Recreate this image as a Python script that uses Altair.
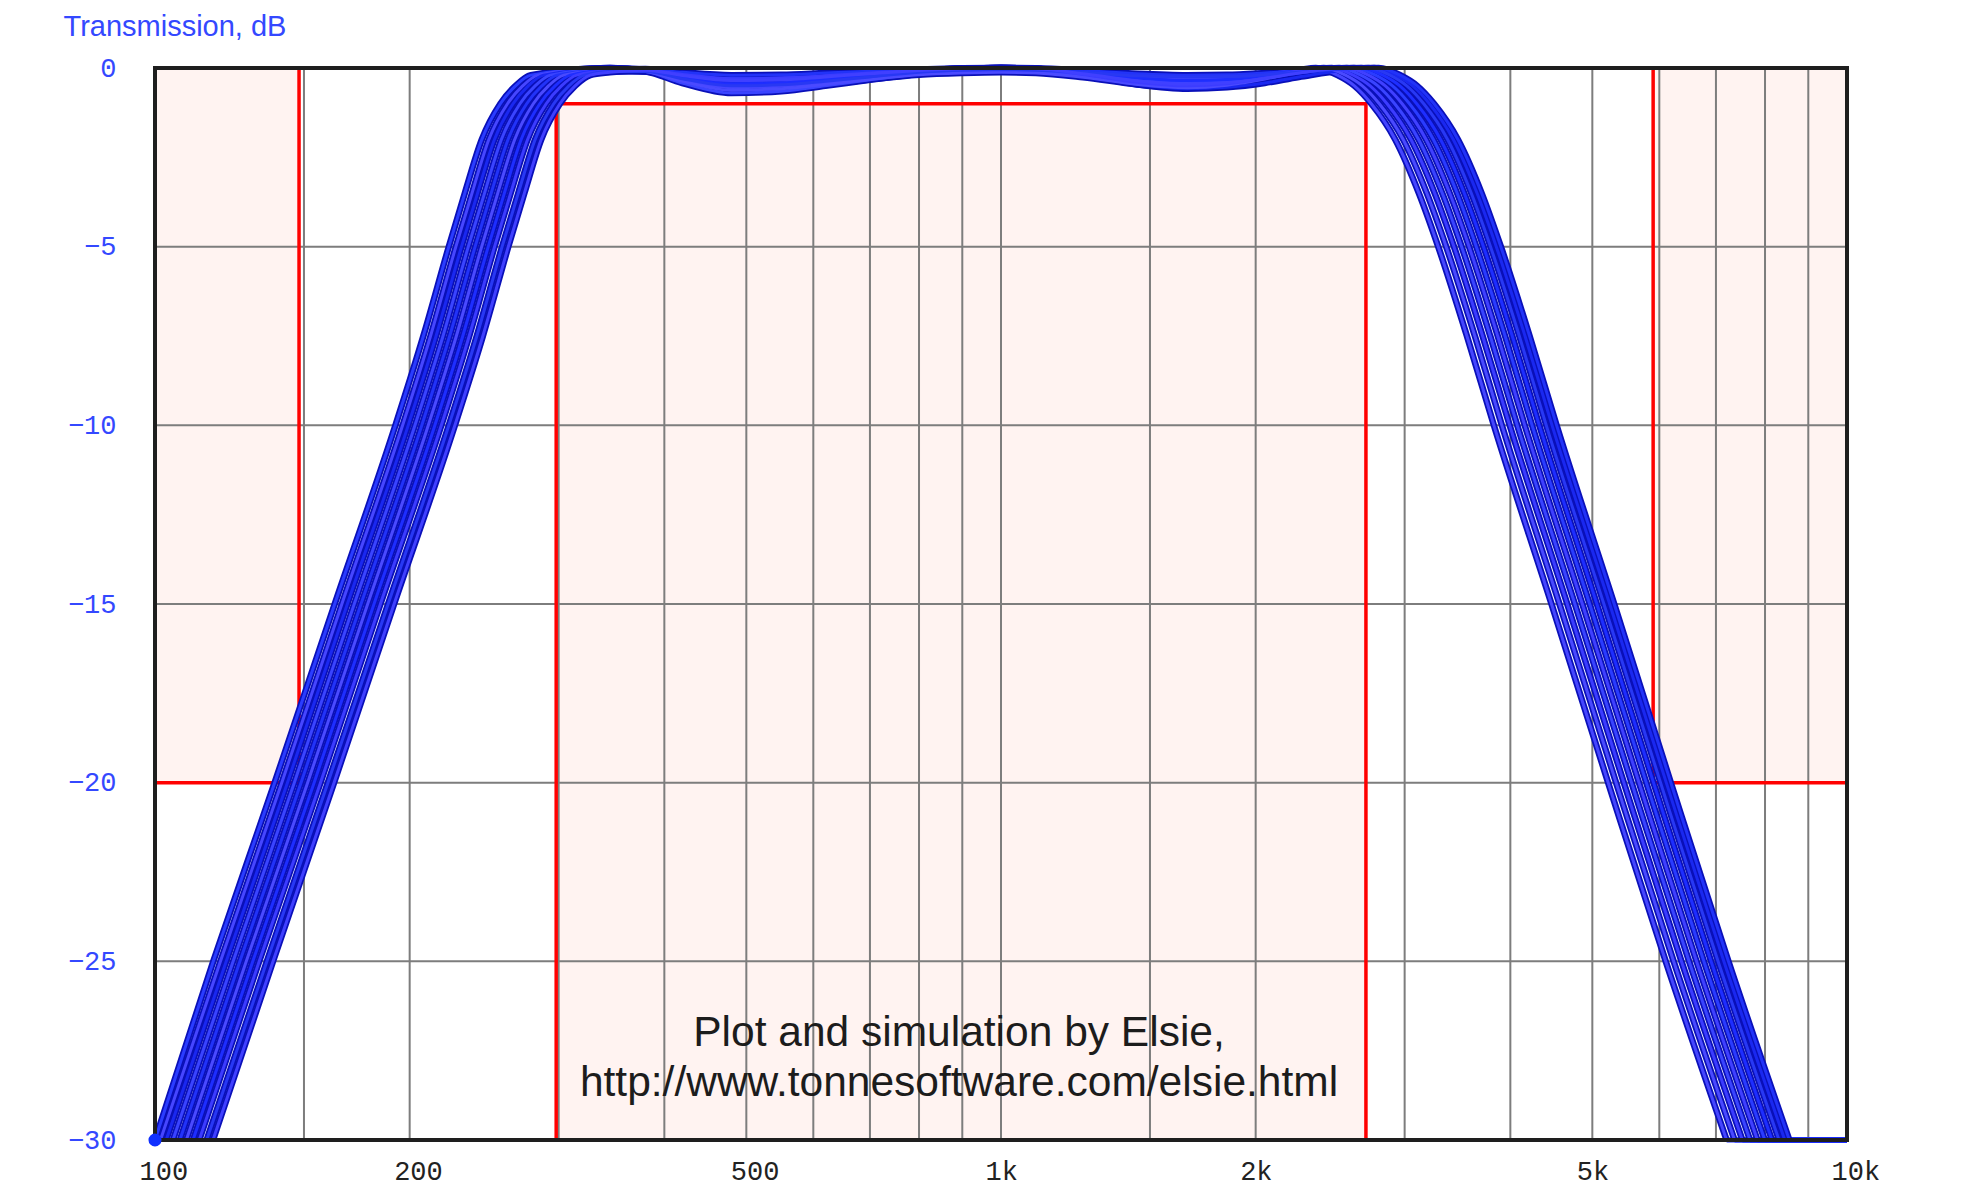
import altair as alt
import pandas as pd

# ---------------- data ----------------
# lower skirt: frequency (Hz) at which each simulated curve crosses these levels (dB)
LOW_SKIRT_DB = [-30, -25, -20, -15, -10, -7.5, -5, -3.5, -2, -1, -0.5, -0.2]
LOW_SKIRT_HZ = [
    [100.0, 117.2, 138.5, 163.1, 192.4, 207.6, 222.5, 232.4, 243.4, 256, 266.8, 278.1],
    [101.5, 119.5, 141.2, 166.3, 196.2, 211.7, 226.8, 237.0, 248.1, 261, 272.0, 283.6],
    [103.1, 121.4, 143.4, 168.8, 199.2, 214.9, 230.3, 240.6, 251.9, 265, 276.2, 287.9],
    [105.0, 123.7, 146.1, 172.0, 202.9, 219.0, 234.6, 245.2, 256.7, 270, 281.4, 293.3],
    [107.0, 126.0, 148.8, 175.2, 206.7, 223.0, 239.0, 249.7, 261.4, 275, 286.6, 298.8],
    [108.9, 128.2, 151.5, 178.4, 210.4, 227.1, 243.3, 254.2, 266.2, 280, 291.8, 304.2],
    [110.9, 130.5, 154.2, 181.5, 214.2, 231.1, 247.7, 258.8, 270.9, 285, 297.1, 309.6],
    [112.8, 132.8, 156.9, 184.7, 218.0, 235.2, 252.0, 263.3, 275.7, 290, 302.3, 315.1],
    [115.1, 135.6, 160.1, 188.6, 222.5, 240.1, 257.2, 268.8, 281.4, 296, 308.5, 321.6],
    [117.1, 137.9, 162.8, 191.7, 226.2, 244.1, 261.6, 273.3, 286.1, 301, 313.7, 327.0],
]

# passband ripple: level (dB) of each curve at these frequencies (Hz)
PASS_HZ = [345, 380, 420, 480, 550, 620, 700, 800, 900, 1000, 1100, 1250, 1450, 1660, 1850, 2050, 2250]
PASS_DB = [
    [0, -0.05, -0.18, -0.3, -0.28, -0.22, -0.14, -0.06, -0.02, 0, -0.02, -0.16, -0.36, -0.45, -0.41, -0.29, -0.14],
    [0, -0.08, -0.33, -0.55, -0.51, -0.4, -0.25, -0.11, -0.03, 0, -0.02, -0.1, -0.24, -0.3, -0.26, -0.17, -0.05],
    [-0.02, -0.06, -0.24, -0.4, -0.37, -0.29, -0.18, -0.08, -0.02, 0, -0.03, -0.2, -0.46, -0.58, -0.54, -0.42, -0.25],
    [-0.03, -0.1, -0.42, -0.7, -0.65, -0.5, -0.33, -0.17, -0.1, -0.08, -0.1, -0.2, -0.35, -0.4, -0.36, -0.26, -0.12],
    [-0.05, -0.03, -0.12, -0.2, -0.19, -0.14, -0.09, -0.04, -0.01, 0, -0.01, -0.07, -0.16, -0.2, -0.19, -0.14, -0.08],
    [-0.06, -0.1, -0.37, -0.62, -0.58, -0.46, -0.32, -0.19, -0.14, -0.12, -0.14, -0.26, -0.46, -0.55, -0.48, -0.31, -0.1],
    [-0.06, -0.08, -0.27, -0.45, -0.42, -0.32, -0.2, -0.09, -0.02, 0, -0.02, -0.12, -0.28, -0.35, -0.32, -0.23, -0.11],
    [-0.08, -0.06, -0.18, -0.3, -0.28, -0.22, -0.14, -0.06, -0.02, 0, -0.03, -0.18, -0.4, -0.5, -0.44, -0.28, -0.08],
    [-0.1, -0.1, -0.3, -0.5, -0.47, -0.37, -0.25, -0.12, -0.06, -0.05, -0.06, -0.12, -0.22, -0.25, -0.24, -0.19, -0.12],
    [-0.12, -0.06, -0.21, -0.35, -0.33, -0.25, -0.16, -0.07, -0.02, 0, -0.02, -0.16, -0.36, -0.45, -0.41, -0.29, -0.14],
]

# upper skirt: frequency (Hz) at which each curve crosses these levels (dB)
HIGH_SKIRT_DB = [0, -0.2, -0.5, -1, -2, -3.5, -5, -7.5, -10, -15, -20, -25, -30]
HIGH_SKIRT_HZ = [
    [2614, 2772, 2903, 3040, 3244, 3460, 3646, 3943, 4244, 4964, 5791, 6773, 7995],
    [2356, 2499, 2617, 2740, 2924, 3118, 3287, 3554, 3825, 4474, 5220, 6105, 7206],
    [2761, 2928, 3066, 3210, 3425, 3653, 3850, 4163, 4481, 5242, 6115, 7152, 8442],
    [2511, 2663, 2789, 2920, 3116, 3323, 3503, 3787, 4076, 4768, 5563, 6506, 7680],
    [2795, 2964, 3104, 3250, 3468, 3699, 3898, 4215, 4537, 5307, 6191, 7241, 8548],
    [2408, 2554, 2674, 2800, 2988, 3186, 3359, 3632, 3909, 4572, 5334, 6238, 7364],
    [2666, 2827, 2961, 3100, 3308, 3528, 3718, 4021, 4328, 5062, 5906, 6907, 8153],
    [2460, 2608, 2731, 2860, 3052, 3255, 3431, 3709, 3993, 4670, 5448, 6372, 7522],
    [2718, 2882, 3018, 3160, 3372, 3596, 3790, 4099, 4411, 5160, 6020, 7040, 8311],
    [2563, 2718, 2846, 2980, 3180, 3391, 3575, 3865, 4160, 4866, 5677, 6639, 7837],
]
F_MAX = 10000
FLOOR_DB = -30

CURVE_NAMES = ["c0", "c1", "c2", "c3", "c4", "c5", "c6", "c7", "c8", "c9"]
CURVE_COLORS = ["#2a3cff", "#4646ff", "#1a28f0", "#3a44ff", "#2233f8",
                "#4a4aff", "#1e2eff", "#3c3cff", "#2838f4", "#4040ff"]

# specification mask (Hz, dB)
MASK_NAMES = ["low stop", "pass", "high stop"]
MASK_F1 = [100, 298, 5900]
MASK_F2 = [148, 2700, 10000]
MASK_DB1 = [0, -1, 0]
MASK_DB2 = [-20, -30, -20]

# red outline paths of the mask
OUTLINE_GROUP = ["low", "low", "low", "pass", "pass", "pass", "pass", "high", "high", "high"]
OUTLINE_F = [100, 148, 148, 298, 298, 2700, 2700, 5900, 5900, 10000]
OUTLINE_DB = [-20, -20, 0, -30, -1, -1, -30, 0, -20, -20]

GRID_F = [150, 200, 300, 400, 500, 600, 700, 800, 900, 1000, 1500, 2000, 3000, 4000, 5000, 6000, 7000, 8000, 9000]
GRID_DB = [-25, -20, -15, -10, -5]

X_TICKS = [100, 200, 500, 1000, 2000, 5000, 10000]
Y_TICKS = [-30, -25, -20, -15, -10, -5, 0]

WATERMARK_1 = "Plot and simulation by Elsie,"
WATERMARK_2 = "http://www.tonnesoftware.com/elsie.html"

rows = []
floor_rows = []
for name, lo, pb, hi in zip(CURVE_NAMES, LOW_SKIRT_HZ, PASS_DB, HIGH_SKIRT_HZ):
    pts = list(zip(lo, LOW_SKIRT_DB)) + list(zip(PASS_HZ, pb)) + list(zip(hi, HIGH_SKIRT_DB))
    for i, (f, d) in enumerate(pts):
        rows.append({"curve": name, "freq": f, "db": d, "idx": i})
    # below the plot floor the simulated curve is clipped to the bottom line
    floor_rows.append({"curve": name, "freq": hi[-1], "db": FLOOR_DB, "idx": 0})
    floor_rows.append({"curve": name, "freq": F_MAX, "db": FLOOR_DB, "idx": 1})
curves_df = pd.DataFrame(rows)
floor_df = pd.DataFrame(floor_rows)

mask_df = pd.DataFrame({"name": MASK_NAMES, "f1": MASK_F1, "f2": MASK_F2, "db1": MASK_DB1, "db2": MASK_DB2})
outline_df = pd.DataFrame({"grp": OUTLINE_GROUP, "f": OUTLINE_F, "db": OUTLINE_DB,
                           "idx": list(range(len(OUTLINE_F)))})
grid_x_df = pd.DataFrame({"f": GRID_F})
grid_y_df = pd.DataFrame({"db": GRID_DB})

# ---------------- styling ----------------
BLUE_TEXT = "#3448ff"
XS = alt.Scale(type="log", domain=[100, 10000], nice=False)
YS = alt.Scale(domain=[-30, 0], nice=False, zero=False)

XA = alt.Axis(values=X_TICKS, title=None, grid=False, ticks=False, domain=False,
              labelExpr="datum.value >= 1000 ? format(datum.value / 1000, 'd') + 'k' : format(datum.value, 'd')",
              labelFont="Liberation Mono", labelFontSize=27, labelColor="#222222",
              labelAlign="left", labelOffset=-16, labelPadding=18, labelBaseline="top",
              labelFlush=False, labelOverlap=False)
YA = alt.Axis(values=Y_TICKS, title="Transmission, dB", titleAngle=0, titleAlign="left",
              titleBaseline="alphabetic", titleX=-92, titleY=-33, titleFont="Liberation Sans",
              titleFontSize=29, titleFontWeight="normal", titleColor=BLUE_TEXT,
              grid=False, ticks=False, domain=False,
              labelFont="Liberation Mono", labelFontSize=27, labelColor=BLUE_TEXT,
              labelPadding=39, labelFlush=False, labelOverlap=False)


def X(field):
    return alt.X(field, type="quantitative", scale=XS, axis=XA)


def Y(field):
    return alt.Y(field, type="quantitative", scale=YS, axis=YA)


def XD(v):
    return alt.XDatum(v, type="quantitative", scale=XS, axis=XA)


def YD(v):
    return alt.YDatum(v, type="quantitative", scale=YS, axis=YA)


pink = alt.Chart(mask_df).mark_rect(color="#fff3f1").encode(
    x=X("f1"), x2="f2", y=Y("db1"), y2="db2")

grid_v = alt.Chart(grid_x_df).mark_rule(color="#7d7d7d", strokeWidth=2).encode(x=X("f"))
grid_h = alt.Chart(grid_y_df).mark_rule(color="#7d7d7d", strokeWidth=2).encode(y=Y("db"))

red = alt.Chart(outline_df).mark_line(color="#ff0000", strokeWidth=3.5, strokeJoin="miter").encode(
    x=X("f"), y=Y("db"), detail="grp:N", order="idx:Q")

wm1 = alt.Chart().mark_text(text=WATERMARK_1, font="Liberation Sans", fontSize=42.5, color="#1c1c1c",
                            align="center", baseline="middle").encode(x=XD(892), y=YD(-27.0))
wm2 = alt.Chart().mark_text(text=WATERMARK_2, font="Liberation Sans", fontSize=42.5, color="#1c1c1c",
                            align="center", baseline="middle").encode(x=XD(892), y=YD(-28.4))

floor = alt.Chart(floor_df).mark_line(color="#1a2cff", strokeWidth=5).encode(
    x=X("freq"), y=Y("db"), detail="curve:N", order="idx:Q")
curve_outline = alt.Chart(curves_df).mark_line(color="#0a10b8", strokeWidth=6.5, interpolate="monotone").encode(
    x=X("freq"), y=Y("db"), detail="curve:N", order="idx:Q")
curve_inner = alt.Chart(curves_df).mark_line(strokeWidth=3, interpolate="monotone").encode(
    x=X("freq"), y=Y("db"), detail="curve:N", order="idx:Q",
    color=alt.Color("curve:N", scale=alt.Scale(domain=CURVE_NAMES, range=CURVE_COLORS), legend=None))

frame = alt.Chart().mark_rect(fillOpacity=0, stroke="#1e1e1e", strokeWidth=4).encode(
    x=XD(100), x2=alt.X2Datum(10000), y=YD(0), y2=alt.Y2Datum(-30))

dot = alt.Chart().mark_circle(color="#1030ff", opacity=1, size=170).encode(x=XD(100), y=YD(-30))

chart = alt.layer(pink, grid_v, grid_h, red, wm1, wm2, floor, curve_outline, curve_inner, frame, dot).properties(
    width=1692, height=1072,
    autosize=alt.AutoSizeParams(type="none"),
    padding={"left": 147, "top": 60, "right": 110, "bottom": 50},
    background="white",
).configure_view(stroke=None)

chart.save("out.html", embed_options={"renderer": "svg", "actions": False})
